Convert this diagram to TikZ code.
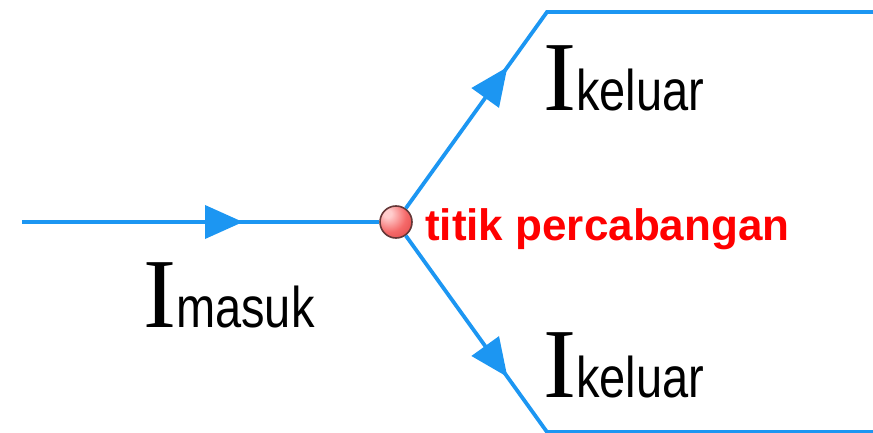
\documentclass[tikz,border=0pt]{standalone}
\usepackage{fontspec}
\usepackage{graphicx}
\setmainfont{Liberation Sans}
\newfontfamily\serifI{Liberation Serif}
\usetikzlibrary{arrows.meta,decorations.markings}
\definecolor{wireblue}{RGB}{28,150,242}
\definecolor{lblred}{RGB}{255,0,0}
\definecolor{ballrim}{RGB}{100,55,55}
\definecolor{ballhi}{RGB}{255,205,205}
\definecolor{ballmid}{RGB}{245,105,105}
\definecolor{balledge}{RGB}{210,45,45}
\pgfdeclareradialshading{redball}{\pgfpoint{-14bp}{14bp}}{color(0bp)=(ballhi); color(6bp)=(ballhi); color(26bp)=(ballmid); color(58bp)=(balledge); color(100bp)=(balledge)}
\newcommand{\curI}[1]{{\serifI\fontsize{99}{99}\selectfont I}\scalebox{1}[1.22]{#1}}
\begin{document}
\begin{tikzpicture}[x=1pt,y=-1pt,
  wireline/.style={draw=wireblue,line width=3.8pt,line join=miter},
  midarrow/.style={postaction={decorate},decoration={markings,
    mark=at position #1 with {\arrow{Triangle[length=38pt,width=33pt]}}}},
  junction/.style={circle,minimum size=32pt,inner sep=0pt,
    shading=redball,draw=ballrim,line width=1.6pt},
  curlab/.style={anchor=base west,inner sep=0pt,font=\fontsize{47}{47}\selectfont},
  redlab/.style={anchor=base west,inner sep=0pt,text=lblred,font=\bfseries\fontsize{44}{44}\selectfont}]
\useasboundingbox (0,0) rectangle (873,433);
\node[junction] (J) at (396,222) {};
\coordinate (in) at (22,222);
\coordinate (uc) at (547,12);
\coordinate (ue) at (873,12);
\coordinate (lc) at (547,432);
\coordinate (le) at (873,432);
\draw[wireline,midarrow=221pt] (in) -- (J);
\draw[wireline,midarrow=174pt] (J) -- (uc) -- (ue);
\draw[wireline,midarrow=174pt] (J) -- (lc) -- (le);
\node[curlab] (Im) at (143,327) {\curI{masuk}};
\node[curlab] (Iu) at (543,111) {\curI{keluar}};
\node[curlab] (Il) at (543,397) {\curI{keluar}};
\node[redlab] (tp) at (425,240) {titik percabangan};
\end{tikzpicture}
\end{document}
